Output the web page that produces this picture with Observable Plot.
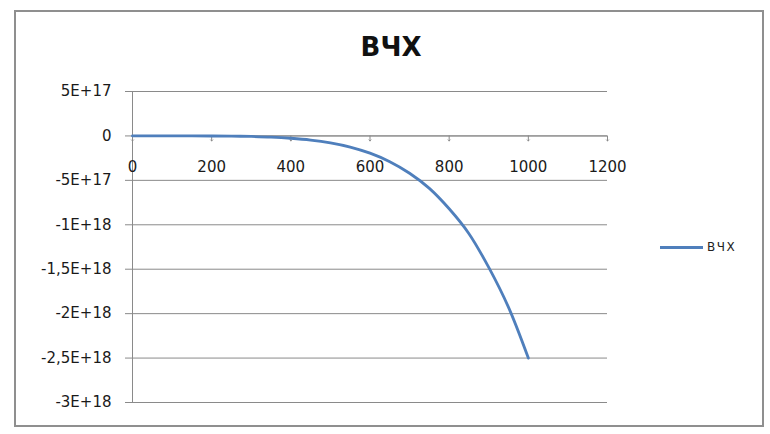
<!DOCTYPE html>
<html>
<head>
<meta charset="utf-8">
<script src="https://cdn.jsdelivr.net/npm/d3@7"></script>
<script src="https://cdn.jsdelivr.net/npm/@observablehq/plot@0.6"></script>
<style>
  html, body { margin: 0; padding: 0; background: #fff; }
  #wrap { position: relative; width: 770px; height: 434px; overflow: hidden; font-family: "DejaVu Sans", sans-serif; }
  #frame { position: absolute; left: 14px; top: 10px; width: 750px; height: 417px; border: 2px solid #8f8f8f; box-sizing: border-box; }
  #title { position: absolute; left: 291px; width: 200px; top: 31px; text-align: center; font-family: "DejaVu Sans", sans-serif; font-weight: 700; font-size: 26px; line-height: 32px; color: #111; }
  #legend { position: absolute; left: 660px; top: 238px; display: flex; align-items: center; font-size: 12px; line-height: 18px; letter-spacing: 1.5px; color: #222; }
  #legend .sw { width: 43px; height: 0; border-top: 3px solid #4f7fbc; margin-right: 4px; }
  #chart { position: absolute; left: 0; top: 0; }
</style>
</head>
<body>
<div id="wrap">
  <div id="frame"></div>
  <div id="chart"></div>
  <div id="title">ВЧХ</div>
  <div id="legend"><div class="sw"></div><span>ВЧХ</span></div>
</div>
<script>
// Data (x, ВЧХ value)
const seriesName = "ВЧХ";
const xValues = [0, 50, 100, 150, 200, 250, 300, 350, 400, 450, 500, 550, 600, 650, 700, 750, 800, 850, 900, 950, 1000];
const yValues = [0, -1e13, -1e14, -2e14, -8e14, -2.4e15, -6e15, -1.3e16, -2.6e16, -4.6e16, -7.8e16, -1.25e17, -1.94e17, -2.9e17, -4.2e17, -5.9e17, -8.2e17, -1.1e18, -1.48e18, -1.93e18, -2.5e18];

const xTicks = [0, 200, 400, 600, 800, 1000, 1200];
const xTickLabels = ["0", "200", "400", "600", "800", "1000", "1200"];
const yTicks = [5e17, 0, -5e17, -1e18, -1.5e18, -2e18, -2.5e18, -3e18];
const yTickLabels = ["5E+17", "0", "-5E+17", "-1E+18", "-1,5E+18", "-2E+18", "-2,5E+18", "-3E+18"];

const data = xValues.map((x, i) => ({x, y: yValues[i]}));
const xt = xTicks.map((v, i) => ({v, label: xTickLabels[i]}));

const gridColor = "#8a8a8a";
const textColor = "#1a1a1a";
const fontFamily = "'DejaVu Sans', sans-serif";

const plot = Plot.plot({
  width: 770,
  height: 434,
  marginLeft: 132,
  marginRight: 163,
  marginTop: 91,
  marginBottom: 32,
  style: {background: "transparent", fontFamily, fontSize: "15px", color: textColor},
  x: {domain: [0, 1200], axis: null},
  y: {domain: [-3e18, 5e17]},
  marks: [
    Plot.gridY({ticks: yTicks, stroke: gridColor, strokeOpacity: 1, strokeWidth: 1}),
    Plot.axisY({ticks: yTicks, tickSize: 7, tickPadding: 14, stroke: gridColor, fill: textColor,
      tickFormat: d => yTickLabels[yTicks.indexOf(d)], label: null, fontSize: 15}),
    Plot.ruleX([0], {stroke: gridColor}),
    Plot.ruleY([0], {stroke: gridColor}),
    Plot.vector(xt, {x: "v", y: 0, length: 5, rotate: 180, anchor: "start", stroke: gridColor, strokeWidth: 1}),
    Plot.text(xt, {x: "v", y: 0, text: "label", dy: 31, fill: textColor, fontSize: 15}),
    Plot.line(data, {x: "x", y: "y", stroke: "#4f7fbc", strokeWidth: 2.8, curve: "catmull-rom"})
  ]
});
document.getElementById("chart").appendChild(plot);
</script>
</body>
</html>
